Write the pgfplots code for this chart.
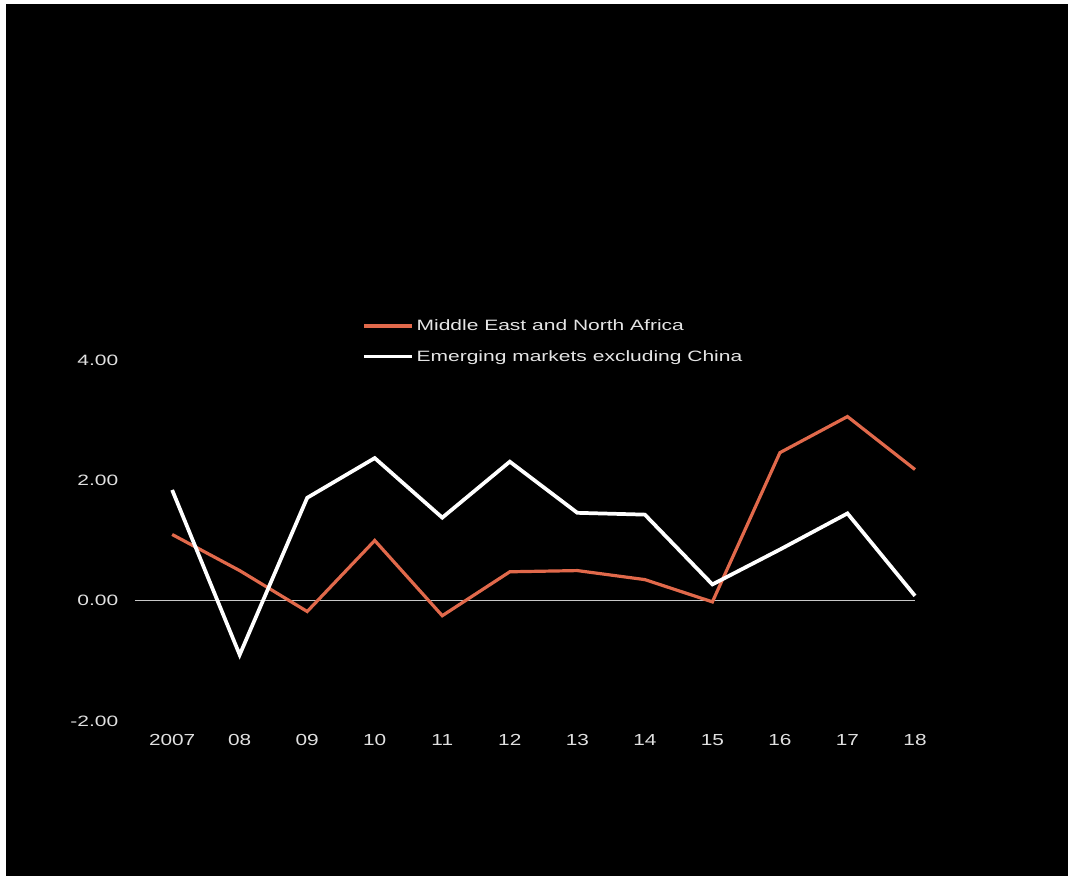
\documentclass[border=0pt]{standalone}
\usepackage{pgfplots}
\pgfplotsset{compat=1.18}
\usepackage{fontspec}
\setmainfont{Liberation Sans}
\newfontfamily\wide[FakeStretch=1.4]{Liberation Sans}
\newfontfamily\wideb[FakeStretch=1.3]{Liberation Sans}
\definecolor{mena}{RGB}{225,105,75}
\definecolor{zerol}{RGB}{200,200,200}
\begin{document}
\begin{tikzpicture}[x=0.75pt,y=0.75pt]
\useasboundingbox (0,0) rectangle (1068,876);
\fill[white] (0,0) rectangle (1068,876);
\fill[black] (6,0) rectangle (1068,872);
\begin{axis}[
  at={(101.25pt,116.25pt)}, anchor=south west,
  scale only axis, width=585pt, height=270.75pt,
  xmin=-0.55, xmax=11, ymin=-2, ymax=4,
  axis line style={draw=none}, tick style={draw=none}, clip=false,
  xtick={0,...,11},
  xticklabels={2007,08,09,10,11,12,13,14,15,16,17,18},
  ytick={-2,0,2,4},
  major tick length=0pt,
  /pgf/number format/assume math mode=true,
  yticklabel={\pgfmathprintnumber[fixed,fixed zerofill,precision=2]{\tick}},
  yticklabel style={font=\wide\fontsize{11.25}{13}\selectfont, text=white!88!black, anchor=east, xshift=-9pt},
  xticklabel style={font=\wideb\fontsize{12}{14}\selectfont, text=white!88!black, anchor=north, yshift=-6.5pt},
  legend style={at={(0.291,1.12)}, anchor=north west, draw=none, fill=none,
    text=white!90!black, font=\wide\fontsize{11.25}{13}\selectfont, row sep=9.25pt, inner sep=0pt},
  legend cell align=left,
  legend image code/.code={\draw[#1] (0pt,0pt) -- (36pt,0pt);},
]
\draw[zerol, line width=0.9pt] (axis cs:-0.55,0) -- (axis cs:11,0);
\addplot[mena, line width=2.4pt, line join=miter] coordinates {
 (0,1.10) (1,0.50) (2,-0.18) (3,1.00) (4,-0.25) (5,0.48) (6,0.50) (7,0.35) (8,-0.02) (9,2.46) (10,3.06) (11,2.18)};
\addlegendentry{Middle East and North Africa}
\addplot[white, line width=2.8pt, line join=miter] coordinates {
 (0,1.84) (1,-0.90) (2,1.71) (3,2.37) (4,1.38) (5,2.31) (6,1.46) (7,1.43) (8,0.27) (9,0.85) (10,1.45) (11,0.08)};
\addlegendentry{Emerging markets excluding China}
\end{axis}
\end{tikzpicture}
\end{document}
